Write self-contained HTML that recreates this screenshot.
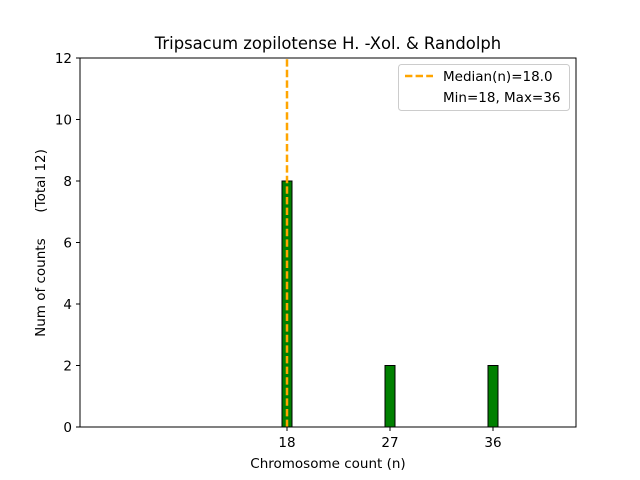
<!DOCTYPE html>
<html><head><style>body{margin:0;background:#fff}svg{display:block}text{font-family:"DejaVu Sans","Liberation Sans",sans-serif;fill:#000}</style></head><body>
<svg width="640" height="480" viewBox="0 0 640 480" xmlns="http://www.w3.org/2000/svg">
<rect width="640" height="480" fill="#fff"/>
<g stroke="#000" stroke-width="1">
<rect x="282" y="181" width="10" height="246" fill="#008000"/>
<rect x="385" y="365.5" width="10" height="61.5" fill="#008000"/>
<rect x="488" y="365.5" width="10" height="61.5" fill="#008000"/>
<line x1="80" y1="427" x2="533" y2="427"/>
</g>
<line x1="287" y1="427" x2="287" y2="58" stroke="#FFA500" stroke-width="2.5" stroke-dasharray="7.4,3.2"/>
<rect x="80" y="58" width="496" height="369" fill="none" stroke="#000" stroke-width="1"/>
<g stroke="#000">
<line x1="80" y1="427" x2="76" y2="427"/><line x1="80" y1="365.5" x2="76" y2="365.5"/>
<line x1="80" y1="304" x2="76" y2="304"/><line x1="80" y1="242.5" x2="76" y2="242.5"/>
<line x1="80" y1="181" x2="76" y2="181"/><line x1="80" y1="119.5" x2="76" y2="119.5"/>
<line x1="80" y1="58" x2="76" y2="58"/>
<line x1="287" y1="427" x2="287" y2="431"/><line x1="390" y1="427" x2="390" y2="431"/><line x1="493" y1="427" x2="493" y2="431"/>
</g>
<g font-size="13.5" text-anchor="end">
<text x="72" y="432">0</text><text x="72" y="370.5">2</text><text x="72" y="309">4</text>
<text x="72" y="247.5">6</text><text x="72" y="186">8</text><text x="72" y="124.5">10</text><text x="72" y="63">12</text>
</g>
<g font-size="13.5" text-anchor="middle">
<text x="287" y="447">18</text><text x="390" y="447">27</text><text x="493" y="447">36</text>
<text x="328" y="468">Chromosome count (n)</text>
<text transform="translate(45,243) rotate(-90)" style="white-space:pre" xml:space="preserve">Num of counts      (Total 12)</text>
</g>
<text x="328" y="49" font-size="16.4" text-anchor="middle">Tripsacum zopilotense H. -Xol. &amp; Randolph</text>
<rect x="398.5" y="64.5" width="171" height="46" rx="3" fill="#fff" fill-opacity="0.8" stroke="#ccc"/>
<line x1="405" y1="76" x2="433" y2="76" stroke="#FFA500" stroke-width="2.5" stroke-dasharray="7.4,3.2"/>
<text x="443" y="81" font-size="13.5">Median(n)=18.0</text>
<text x="443" y="102" font-size="13.5">Min=18, Max=36</text>
</svg>
</body></html>
